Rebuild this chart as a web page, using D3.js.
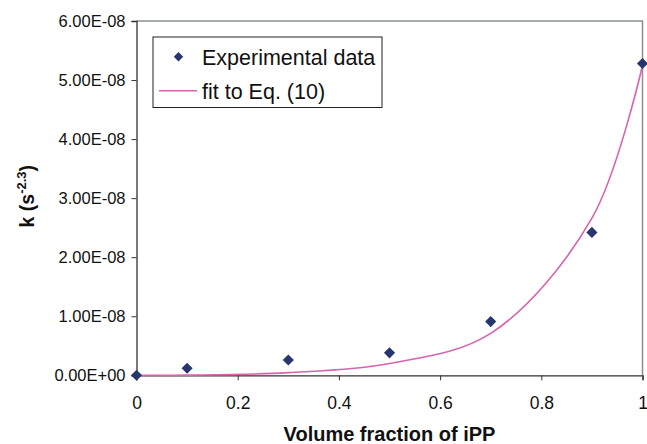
<!DOCTYPE html>
<html>
<head>
<meta charset="utf-8">
<script src="https://cdn.jsdelivr.net/npm/d3@7/dist/d3.min.js"></script>
<style>
  html, body { margin: 0; padding: 0; background: #fff; }
  svg { display: block; font-family: "Liberation Sans", Arial, sans-serif; }
</style>
</head>
<body>
<svg id="chart" width="647" height="444"></svg>
<script>
// Volume fraction of iPP and measured rate constant k
const phiExp = [0, 0.1, 0.3, 0.5, 0.7, 0.9, 1.0];
const kExp   = [0, 1.2e-9, 2.6e-9, 3.8e-9, 9.1e-9, 2.42e-8, 5.28e-8];

// Model curve, Eq. (10)
const phiFit = [0, 0.1, 0.3, 0.5, 0.7, 0.9, 1.0];
const kFit   = [0, 0.03e-9, 0.45e-9, 2.0e-9, 7.1e-9, 2.66e-8, 5.25e-8];

const xTicks = [0, 0.2, 0.4, 0.6, 0.8, 1];
const xTickLabels = ["0", "0.2", "0.4", "0.6", "0.8", "1"];
const yTicks = [0, 1e-8, 2e-8, 3e-8, 4e-8, 5e-8, 6e-8];
const yTickLabels = ["0.00E+00", "1.00E-08", "2.00E-08", "3.00E-08", "4.00E-08", "5.00E-08", "6.00E-08"];

const legendLabels = ["Experimental data", "fit to Eq. (10)"];

const svg = d3.select("#chart");
const plotL = 136.5, plotR = 642.5, plotT = 21, plotB = 375.3;

const x = d3.scaleLinear().domain([0, 1]).range([plotL, plotR]);
const y = d3.scaleLinear().domain([0, 6e-8]).range([plotB, plotT]);

const markColor = "#283670";
const lineColor = "#d963ae";

// Plot frame: top and right edges in grey
svg.append("path")
  .attr("d", `M${plotL},${plotT}H${plotR}V${plotB}`)
  .attr("fill", "none")
  .attr("stroke", "#8a9292")
  .attr("stroke-width", 1.5);

// Y axis
const yAxis = d3.axisLeft(y)
  .tickValues(yTicks)
  .tickFormat((d, i) => yTickLabels[i])
  .tickSize(5)
  .tickPadding(6);
const gy = svg.append("g").attr("transform", `translate(${plotL},0)`).call(yAxis);
gy.select(".domain").attr("stroke", "#333").attr("stroke-width", 1.3);
gy.selectAll(".tick line").attr("stroke", "#333");
gy.selectAll("text").attr("font-size", 16.5).attr("fill", "#111")
  .attr("font-family", "Liberation Sans, Arial, sans-serif");

// X axis
const xAxis = d3.axisBottom(x)
  .tickValues(xTicks)
  .tickFormat((d, i) => xTickLabels[i])
  .tickSize(5)
  .tickPadding(16);
const gx = svg.append("g").attr("transform", `translate(0,${plotB})`).call(xAxis);
gx.select(".domain").attr("stroke", "#333").attr("stroke-width", 1.3);
gx.selectAll(".tick line").attr("stroke", "#333");
gx.selectAll("text").attr("font-size", 17.5).attr("fill", "#111")
  .attr("font-family", "Liberation Sans, Arial, sans-serif");

// Fitted curve
const fitData = phiFit.map((p, i) => [p, kFit[i]]);
svg.append("path")
  .datum(fitData)
  .attr("fill", "none")
  .attr("stroke", lineColor)
  .attr("stroke-width", 1.6)
  .attr("d", d3.line().x(d => x(d[0])).y(d => y(d[1])).curve(d3.curveCatmullRom.alpha(0.5)));

// Experimental points as diamonds
const diamond = d3.symbol().type(d3.symbolSquare).size(62);
svg.append("g").selectAll("path")
  .data(phiExp.map((p, i) => [p, kExp[i]]))
  .join("path")
  .attr("d", diamond)
  .attr("fill", markColor)
  .attr("transform", d => `translate(${x(d[0])},${y(d[1])}) rotate(45)`);

// Legend
const lg = svg.append("g");
lg.append("rect")
  .attr("x", 153).attr("y", 37).attr("width", 229).attr("height", 70.5)
  .attr("fill", "#fff").attr("stroke", "#222").attr("stroke-width", 1);
lg.append("path")
  .attr("d", d3.symbol().type(d3.symbolSquare).size(44))
  .attr("fill", markColor)
  .attr("transform", "translate(178.5,56.7) rotate(45)");
lg.append("line")
  .attr("x1", 159).attr("x2", 197).attr("y1", 90.7).attr("y2", 90.7)
  .attr("stroke", lineColor).attr("stroke-width", 1.6);
lg.selectAll("text")
  .data(legendLabels)
  .join("text")
  .attr("x", 202)
  .attr("y", (d, i) => 64.5 + i * 34)
  .attr("font-size", 21.5)
  .attr("fill", "#111")
  .text(d => d);

// Axis titles
svg.append("text")
  .attr("x", (plotL + plotR) / 2)
  .attr("y", 441)
  .attr("text-anchor", "middle")
  .attr("font-size", 20)
  .attr("font-weight", "bold")
  .attr("fill", "#111")
  .text("Volume fraction of iPP");

const yt = svg.append("text")
  .attr("transform", `translate(33.5,${(plotT + plotB) / 2 - 2}) rotate(-90)`)
  .attr("text-anchor", "middle")
  .attr("font-size", 19.5)
  .attr("font-weight", "bold")
  .attr("fill", "#111");
yt.append("tspan").text("k (s");
yt.append("tspan").attr("dy", -8).attr("font-size", 13).text("-2.3");
yt.append("tspan").attr("dy", 8).text(")");
</script>
</body>
</html>
